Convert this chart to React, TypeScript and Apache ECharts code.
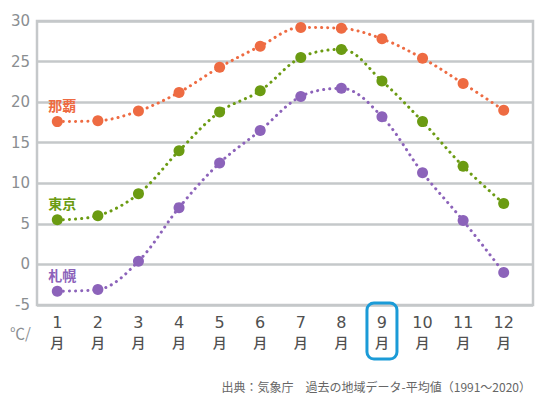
import React, { useEffect, useRef } from "react";
import * as echarts from "echarts";

// 月別平均気温 (℃)
const months = ["1", "2", "3", "4", "5", "6", "7", "8", "9", "10", "11", "12"];
const nahaTemps = [17.6, 17.7, 18.9, 21.2, 24.3, 26.9, 29.2, 29.1, 27.8, 25.4, 22.3, 19.0];
const tokyoTemps = [5.5, 6.0, 8.7, 14.0, 18.8, 21.4, 25.5, 26.5, 22.6, 17.6, 12.1, 7.5];
const sapporoTemps = [-3.3, -3.1, 0.4, 7.0, 12.5, 16.5, 20.7, 21.7, 18.2, 11.3, 5.4, -1.0];

const cityNames = ["那覇", "東京", "札幌"];
const cityColors = ["#ee6b42", "#6b9b12", "#8c63ba"];

const yMin = -5;
const yMax = 30;
const yStep = 5;
const highlightIndex = 8; // 9月

const SOURCE_TEXT = "出典：気象庁　過去の地域データ-平均値（1991～2020）";
const CJK_FONT = "Noto Sans CJK JP";
const NUM_FONT = "DejaVu Sans";
const GRID_COLOR = "#c5c8ca";

const makeSeries = (name: string, color: string, values: number[]) => ({
  type: "line" as const,
  name,
  xAxisIndex: 1,
  yAxisIndex: 1,
  smooth: 0.35,
  symbol: "circle",
  symbolSize: 11,
  itemStyle: { color },
  lineStyle: { color, width: 3, type: [0.1, 6], cap: "round" as const },
  emphasis: { disabled: true },
  z: 3,
  data: values.map((v, i) =>
    i === 0
      ? {
          value: v,
          label: {
            show: true,
            position: "top" as const,
            distance: 4,
            offset: [5, 0],
            formatter: name,
            color,
            fontSize: 14,
            fontWeight: "bold" as const,
            fontFamily: CJK_FONT,
          },
        }
      : v
  ),
});

const App: React.FC = () => {
  const chartRef = useRef<HTMLDivElement>(null);

  useEffect(() => {
    if (!chartRef.current) return;
    const chart = echarts.init(chartRef.current, undefined, { renderer: "svg" });

    const option: echarts.EChartsOption = {
      animation: false,
      backgroundColor: "#ffffff",
      grid: [
        // 枠と目盛り用
        {
          left: 37,
          right: 17,
          top: 21,
          bottom: 95,
          show: true,
          borderColor: GRID_COLOR,
          borderWidth: 2.5,
        },
        // データ用
        { left: 37, right: 26, top: 21, bottom: 95 },
      ],
      xAxis: [
        {
          type: "category",
          gridIndex: 0,
          data: months,
          show: false,
        },
        {
          type: "category",
          gridIndex: 1,
          data: months,
          boundaryGap: true,
          axisLine: { show: false },
          axisTick: { show: false },
          axisLabel: {
            interval: 0,
            margin: 8,
            formatter: (v: string) => `{n|${v}}\n{m|月}`,
            rich: {
              n: {
                fontSize: 16,
                fontFamily: NUM_FONT,
                fontWeight: 500,
                color: "#505050",
                lineHeight: 18,
              },
              m: {
                fontSize: 14,
                fontFamily: CJK_FONT,
                fontWeight: 500,
                color: "#505050",
                lineHeight: 21,
              },
            },
          },
        },
      ],
      yAxis: [
        {
          type: "value",
          gridIndex: 0,
          min: yMin,
          max: yMax,
          interval: yStep,
          axisLine: { show: false },
          axisTick: { show: false },
          axisLabel: {
            margin: 7,
            color: "#8a8e91",
            fontSize: 15,
            fontFamily: NUM_FONT,
          },
          splitLine: { lineStyle: { color: GRID_COLOR, width: 2.5 } },
        },
        {
          type: "value",
          gridIndex: 1,
          min: yMin,
          max: yMax,
          interval: yStep,
          show: false,
          splitLine: { show: false },
        },
      ],
      series: [
        makeSeries(cityNames[0], cityColors[0], nahaTemps),
        makeSeries(cityNames[1], cityColors[1], tokyoTemps),
        makeSeries(cityNames[2], cityColors[2], sapporoTemps),
      ],
      graphic: [
        {
          id: "unit",
          type: "text",
          left: 10,
          top: 325,
          style: {
            text: "℃/",
            fill: "#8a8e91",
            fontSize: 15,
            fontFamily: CJK_FONT,
          },
        },
        {
          id: "source",
          type: "text",
          right: 19,
          top: 380,
          style: {
            text: SOURCE_TEXT,
            fill: "#666666",
            fontSize: 12,
            fontFamily: CJK_FONT,
          },
        },
      ],
    };

    chart.setOption(option);

    // 9月を囲む枠
    const cx = chart.convertToPixel({ xAxisIndex: 1 }, highlightIndex) as number;
    chart.setOption({
      graphic: [
        {
          id: "highlight",
          type: "rect",
          z: 10,
          shape: { x: cx - 15, y: 303, width: 30, height: 56, r: 7 },
          style: { fill: "none", stroke: "#1b9bd7", lineWidth: 3 },
        },
      ],
    });

    return () => {
      chart.dispose();
    };
  }, []);

  return (
    <div
      ref={chartRef}
      style={{
        position: "fixed",
        left: 0,
        top: 0,
        width: "550px",
        height: "400px",
        backgroundColor: "#ffffff",
      }}
    />
  );
};

export default App;
